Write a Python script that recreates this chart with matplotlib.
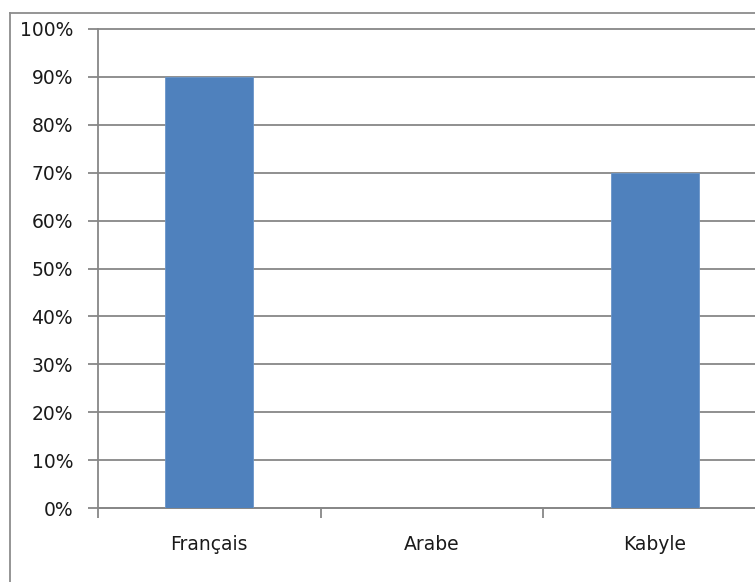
import matplotlib
matplotlib.use("Agg")
import matplotlib.pyplot as plt
from matplotlib.lines import Line2D
from matplotlib.ticker import FixedLocator, PercentFormatter

categories = ["Français", "Arabe", "Kabyle"]
values = [90, 0, 70]
yticks = list(range(0, 101, 10))

W, H = 755, 582
fig = plt.figure(figsize=(W / 100, H / 100), dpi=100)

# plot area in pixels: left 98, right 766 (runs off the image), top 29, bottom 508
ax = fig.add_axes([98 / W, 1 - 508 / H, (766 - 98) / W, (508 - 29) / H])

grid_col = "#878787"
txt_col = "#1a1a1a"
fs = 13.5
x = list(range(len(categories)))
ax.bar(x, values, width=0.395, color="#4F81BD", edgecolor="#6A95C9", linewidth=0.6, zorder=3)

ax.set_xlim(-0.5, 2.5)
ax.set_ylim(0, 100)
ax.set_yticks(yticks)
ax.yaxis.set_major_formatter(PercentFormatter(decimals=0))
ax.yaxis.grid(True, color=grid_col, linewidth=1.3, zorder=0)
for gl in ax.get_ygridlines():
    gl.set_clip_on(False)

ax.xaxis.set_major_locator(FixedLocator([-0.5, 0.5, 1.5, 2.5]))
ax.xaxis.set_minor_locator(FixedLocator(x))
ax.set_xticklabels([], minor=False)
ax.set_xticklabels(categories, minor=True)
ax.tick_params(axis="x", which="minor", length=0, pad=19.5, labelsize=fs, labelcolor=txt_col)
ax.tick_params(axis="x", which="major", length=7, width=1.3, color=grid_col)
ax.tick_params(axis="y", length=7, width=1.3, color=grid_col, pad=11, labelsize=fs, labelcolor=txt_col)

for s in ["top", "right"]:
    ax.spines[s].set_visible(False)
for s in ["left", "bottom"]:
    ax.spines[s].set_color(grid_col)
    ax.spines[s].set_linewidth(1.3)

# outer chart border (top and left visible)
fig.add_artist(Line2D([10 / W, 10 / W], [0, 1 - 13 / H], transform=fig.transFigure, color="#8c8c8c", lw=1.3))
fig.add_artist(Line2D([10 / W, 1], [1 - 13 / H, 1 - 13 / H], transform=fig.transFigure, color="#8c8c8c", lw=1.3))

fig.savefig("out.png", dpi=100)
